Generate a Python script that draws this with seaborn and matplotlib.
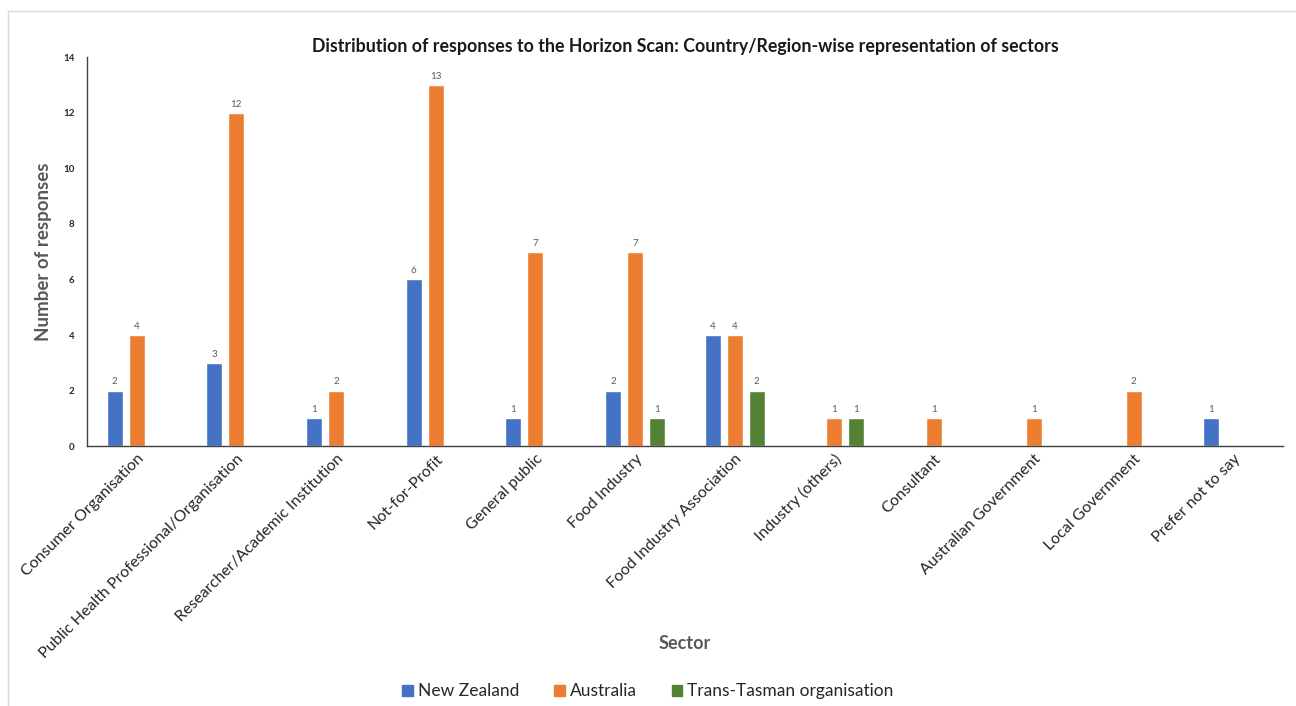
import numpy as np
import pandas as pd
import matplotlib
matplotlib.use("Agg")
import matplotlib.pyplot as plt
import seaborn as sns
from matplotlib.patches import Rectangle
from matplotlib.lines import Line2D

sectors = ["Consumer Organisation", "Public Health Professional/Organisation",
           "Researcher/Academic Institution", "Not-for-Profit", "General public",
           "Food Industry", "Food Industry Association", "Industry (others)",
           "Consultant", "Australian Government", "Local Government", "Prefer not to say"]
new_zealand = [2, 3, 1, 6, 1, 2, 4, np.nan, np.nan, np.nan, np.nan, 1]
australia = [4, 12, 2, 13, 7, 7, 4, 1, 1, 1, 2, np.nan]
trans_tasman = [np.nan, np.nan, np.nan, np.nan, np.nan, 1, 2, 1, np.nan, np.nan, np.nan, np.nan]
series_names = ["New Zealand", "Australia", "Trans-Tasman organisation"]
colors = ["#4472C4", "#ED7D31", "#548235"]

df = pd.DataFrame({"Sector": sectors * 3,
                   "Region": sum([[n] * len(sectors) for n in series_names], []),
                   "Responses": new_zealand + australia + trans_tasman})

sns.set_theme(style="white")
plt.rcParams["font.family"] = ["Lato", "DejaVu Sans"]

fig = plt.figure(figsize=(12.96, 7.06), dpi=100)
ax = fig.add_axes([0.067, 0.368, 0.923, 0.551])
sns.barplot(data=df, x="Sector", y="Responses", hue="Region", order=sectors,
            hue_order=series_names, palette=colors, width=0.66, gap=0.27,
            saturation=1, ax=ax, legend=True)

for cont in ax.containers:
    labels = [("" if np.isnan(v) or v == 0 else f"{int(v)}") for v in cont.datavalues]
    ax.bar_label(cont, labels=labels, padding=3, fontsize=7, color="#595959")

ax.set_ylim(0, 14)
ax.set_yticks(range(0, 15, 2))
ax.tick_params(axis="y", labelsize=7, length=0, pad=9)
for t in ax.get_yticklabels():
    t.set_fontweight("bold")
ax.tick_params(axis="x", labelsize=11.5, length=0, pad=4)
plt.setp(ax.get_xticklabels(), rotation=45, ha="right", rotation_mode="anchor")
for sp in ["top", "right"]:
    ax.spines[sp].set_visible(False)
ax.spines["left"].set_color("#404040")
ax.spines["bottom"].set_color("#404040")
ax.spines["left"].set_linewidth(1.0)
ax.spines["bottom"].set_linewidth(1.0)

ax.set_xlabel("Sector", fontsize=13, fontweight="bold", color="#595959", labelpad=0)
ax.xaxis.set_label_coords(0.5, -0.485)
ax.set_ylabel("Number of responses", fontsize=13.5, fontweight="bold", color="#595959", labelpad=8)
ax.set_title("Distribution of responses to the Horizon Scan: Country/Region-wise representation of sectors",
             fontsize=12.8, fontweight="bold", color="#1a1a1a", pad=4)

ax.legend_.remove()
handles = [Rectangle((0, 0), 1, 1, color=c) for c in colors]
fig.legend(handles, series_names, loc="center", bbox_to_anchor=(0.5, 0.021), ncol=3,
           frameon=False, fontsize=12.5, handlelength=0.6, handleheight=0.6,
           handletextpad=0.3, columnspacing=2.0)

fig.add_artist(Line2D([0.0058, 1.0], [0.9844, 0.9844], transform=fig.transFigure,
                      color="#d9d9d9", linewidth=1))
fig.add_artist(Line2D([0.0058, 0.0058], [0.0, 0.9844], transform=fig.transFigure,
                      color="#d9d9d9", linewidth=1))

fig.savefig("out.png", dpi=100)
